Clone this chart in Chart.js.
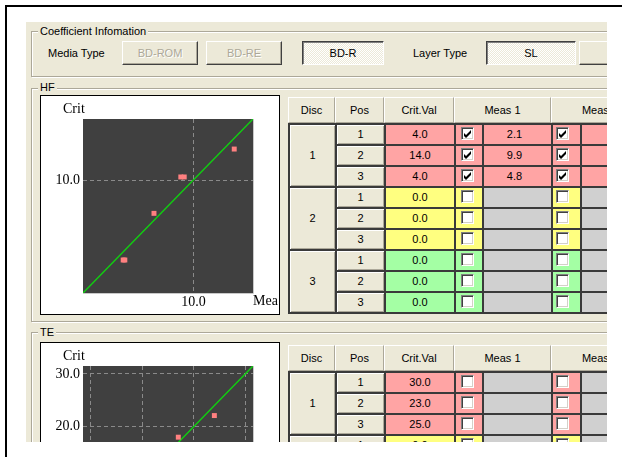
<!DOCTYPE html>
<html>
<head>
<meta charset="utf-8">
<script src="https://cdn.jsdelivr.net/npm/chart.js@4.4.1/dist/chart.umd.min.js"></script>
<style>
  body { margin:0; width:622px; height:457px; background:#fff; position:relative; overflow:hidden;
         font-family:"Liberation Sans", Arial, sans-serif; font-size:11px; color:#000; }
  #frame { position:absolute; left:5px; top:5px; width:640px; height:470px;
           border-left:2px solid #000; border-top:2px solid #000; }
  #dlg { position:absolute; left:26px; top:22px; width:581px; height:420px; background:#ece9d8; overflow:hidden; }
  .abs { position:absolute; box-sizing:border-box; white-space:nowrap; }
  .grp { border:1px solid #aca899; box-shadow:inset 1px 1px 0 #fff, 1px 1px 0 #fff; }
  .cap { background:#ece9d8; padding:0 2px; line-height:14px; }
  .lbl { line-height:14px; }
  .btn { border:1px solid; border-color:#fff #404040 #404040 #fff; box-shadow:inset -1px -1px 0 #aca899;
         text-align:center; line-height:22px; }
  .dis { color:#aca899; text-shadow:1px 1px 0 #fff; }
  .push { border:1px solid; border-color:#404040 #fff #fff #404040; box-shadow:inset 1px 1px 0 #808080;
          background:repeating-conic-gradient(#fff 0 25%, #ece9d8 0 50%) 0 0/2px 2px;
          text-align:center; line-height:22px; }
  .panel { background:#fff; border:1px solid #000; }
  .serif { font-family:"Liberation Serif", "Times New Roman", serif; font-size:14px; line-height:16px; }
  .hd { background:#ece9d8; border:1px solid; border-color:#fff #aca899 #aca899 #fff; text-align:center; line-height:24px; }
  .cell { border-top:2px solid #3a3a3a; border-left:2px solid #3a3a3a; text-align:center; line-height:19px; }
  .beige { background:#ece9d8; box-shadow:inset 1px 1px 0 #fff, inset -1px -1px 0 #aca899; }
  .chk { background:#fff; border:1px solid; border-color:#808080 #fff #fff #808080;
         box-shadow:inset 1px 1px 0 #404040, inset -1px -1px 0 #d4d0c8; width:13px; height:13px; }
  canvas { position:absolute; }
</style>
</head>
<body>
<div id="frame"></div>
<div id="dlg"></div>
<script>
// ---- chart data ----
const HF_POINTS_X = [3.64, 3.79, 6.43, 8.86, 9.17, 13.70];
const HF_POINTS_Y = [2.92, 2.92, 7.05, 10.27, 10.27, 12.74];
const HF_FIT_X    = [0, 15.4];
const HF_FIT_Y    = [0, 15.4];
const HF_TICKS    = [10];
const HF_RANGE    = [0, 15.4];

const TE_POINTS_X = [24.0, 17.0];
const TE_POINTS_Y = [22.1, 18.0];
const TE_FIT_X    = [-1.5, 31.5];
const TE_FIT_Y    = [-1.5, 31.5];
const TE_TICKS    = [0, 10, 20, 30];
const TE_RANGE    = [-1.5, 31.5];

// ---- table data ----
const DISCS      = ["1", "2", "3"];
const POSITIONS  = ["1", "2", "3"];
const HF_CRIT    = ["4.0", "14.0", "4.0", "0.0", "0.0", "0.0", "0.0", "0.0", "0.0"];
const HF_CHECK1  = [1, 1, 1, 0, 0, 0, 0, 0, 0];
const HF_MEAS1   = ["2.1", "9.9", "4.8", "", "", "", "", "", ""];
const HF_CHECK2  = [1, 1, 1, 0, 0, 0, 0, 0, 0];
const HF_MEAS2   = ["3.9", "12.8", "4.5", "", "", "", "", "", ""];
const TE_CRIT    = ["30.0", "23.0", "25.0", "0.0", "0.0", "0.0", "0.0", "0.0", "0.0"];
const TE_CHECK1  = [0, 0, 0, 0, 0, 0, 0, 0, 0];
const TE_MEAS1   = ["", "", "", "", "", "", "", "", ""];
const TE_CHECK2  = [0, 0, 0, 0, 0, 0, 0, 0, 0];
const TE_MEAS2   = ["", "", "", "", "", "", "", "", ""];

const DISC_COLORS = ["#ffa4a4", "#ffff80", "#a4ffa4"];
const OFF_X = 26, OFF_Y = 22;
const dlg = document.getElementById("dlg");

function el(x, y, w, h, cls, html, style) {
  const d = document.createElement("div");
  d.className = "abs " + (cls || "");
  d.style.left = (x - OFF_X) + "px";
  d.style.top = (y - OFF_Y) + "px";
  if (w != null) d.style.width = w + "px";
  if (h != null) d.style.height = h + "px";
  if (style) d.style.cssText += style;
  if (html != null) d.innerHTML = html;
  dlg.appendChild(d);
  return d;
}

const TICK_SVG = '<svg width="8" height="8" style="position:absolute;left:2px;top:2px"><path d="M0 3 L2 5 L7 0 L7 3 L2 8 L0 6 Z" fill="#000"/></svg>';

function checkbox(x, y, on) {
  el(x, y, 13, 13, "chk", on ? TICK_SVG : "");
}

// ---- top group ----
el(31, 31, 620, 46, "grp");
el(38, 24, null, 14, "cap", "Coefficient Infomation");
el(48, 46, null, 14, "lbl", "Media Type");
el(122, 41, 76, 24, "btn dis", "BD-ROM");
el(206, 41, 76, 24, "btn dis", "BD-RE");
el(302, 41, 82, 24, "push", "BD-R");
el(413, 46, null, 14, "lbl", "Layer Type");
el(486, 41, 90, 24, "push", "SL");
el(579, 41, 90, 24, "btn", "");

// ---- HF / TE groups ----
el(31, 88, 620, 234, "grp");
el(38, 80, null, 14, "cap", "HF");
el(31, 332, 620, 200, "grp");
el(38, 325, null, 14, "cap", "TE");

function buildTable(top, crit, chk1, meas1, chk2, meas2) {
  el(288, top, 47, 26, "hd", "Disc");
  el(335, top, 49, 26, "hd", "Pos");
  el(384, top, 70, 26, "hd", "Crit.Val");
  el(454, top, 97, 26, "hd", "Meas 1");
  el(551, top, 98, 26, "hd", "Meas 2");
  const y0 = top + 26, rh = 21;
  DISCS.forEach((disc, g) => {
    el(288, y0 + g * 3 * rh, 47, 3 * rh, "cell beige", disc, "line-height:" + (3 * rh - 2) + "px");
    POSITIONS.forEach((pos, p) => {
      const r = g * 3 + p, y = y0 + r * rh, col = DISC_COLORS[g];
      el(335, y, 49, rh, "cell beige", pos);
      el(384, y, 70, rh, "cell", crit[r], "background:" + col);
      el(454, y, 28, rh, "cell", "", "background:" + col);
      checkbox(461, y + 4, chk1[r]);
      el(482, y, 69, rh, "cell", meas1[r], "padding-right:6px;background:" + (chk1[r] ? col : "#d0d0d0"));
      el(551, y, 29, rh, "cell", "", "background:" + col);
      checkbox(556, y + 4, chk2[r]);
      el(580, y, 70, rh, "cell", meas2[r], "text-align:left;padding-left:25px;background:" + (chk2[r] ? col : "#d0d0d0"));
    });
  });
  el(288, y0 + 9 * rh, 362, 2, "", "", "background:#3a3a3a");
}
buildTable(97, HF_CRIT, HF_CHECK1, HF_MEAS1, HF_CHECK2, HF_MEAS2);
buildTable(345, TE_CRIT, TE_CHECK1, TE_MEAS1, TE_CHECK2, TE_MEAS2);

// ---- chart panels ----
function panel(top, id) {
  el(40, top, 240, 220, "panel");
  const c = document.createElement("canvas");
  c.id = id; c.width = 238; c.height = 218;
  c.style.left = (41 - OFF_X) + "px";
  c.style.top = (top + 1 - OFF_Y) + "px";
  dlg.appendChild(c);
  return c;
}

const plotBg = {
  id: "plotBg",
  beforeDraw(chart) {
    const { ctx, chartArea: a } = chart;
    ctx.save();
    ctx.fillStyle = "#404040";
    ctx.fillRect(a.left, a.top, a.right - a.left, a.bottom - a.top);
    ctx.strokeStyle = "#c8c8c8";
    ctx.lineWidth = 1;
    ctx.beginPath();
    ctx.moveTo(a.right + 0.5, a.top);
    ctx.lineTo(a.right + 0.5, a.bottom + 0.5);
    ctx.lineTo(a.left, a.bottom + 0.5);
    ctx.stroke();
    ctx.restore();
  }
};

function axis(range, ticks, isY) {
  return {
    type: "linear",
    min: range[0],
    max: range[1],
    afterBuildTicks: s => { s.ticks = ticks.map(v => ({ value: v })); },
    afterFit: s => { if (isY) s.width = 42; else s.height = 21; },
    grid: { color: "#8a8a8a", lineWidth: 1, drawTicks: false },
    border: { display: false, dash: [4, 3] },
    ticks: {
      color: "#000",
      font: { family: "Liberation Serif", size: 14 },
      padding: isY ? 3 : 1,
      autoSkip: false,
      maxRotation: 0,
      callback: v => Number(v).toFixed(1),
    },
  };
}

function makeChart(canvas, px, py, fx, fy, ticks, range) {
  return new Chart(canvas.getContext("2d"), {
    type: "scatter",
    data: {
      datasets: [
        {
          data: px.map((x, i) => ({ x, y: py[i] })),
          pointStyle: "rect",
          pointRadius: 3.5,
          backgroundColor: "#ff8080",
          borderWidth: 0,
        },
        {
          data: fx.map((x, i) => ({ x, y: fy[i] })),
          showLine: true,
          borderColor: "#10d010",
          borderWidth: 1.4,
          pointRadius: 0,
        },
      ],
    },
    options: {
      responsive: false,
      animation: false,
      devicePixelRatio: 1,
      events: [],
      layout: { padding: { left: 0, top: 23, right: 26, bottom: 0 } },
      plugins: { legend: { display: false }, tooltip: { enabled: false } },
      scales: { x: axis(range, ticks, false), y: axis(range, ticks, true) },
    },
    plugins: [plotBg],
  });
}

makeChart(panel(95, "hfChart"), HF_POINTS_X, HF_POINTS_Y, HF_FIT_X, HF_FIT_Y, HF_TICKS, HF_RANGE);
el(63, 101, null, 16, "serif", "Crit");
el(253, 293, null, 16, "serif", "Mea");

makeChart(panel(342, "teChart"), TE_POINTS_X, TE_POINTS_Y, TE_FIT_X, TE_FIT_Y, TE_TICKS, TE_RANGE);
el(63, 348, null, 16, "serif", "Crit");
</script>
</body>
</html>
